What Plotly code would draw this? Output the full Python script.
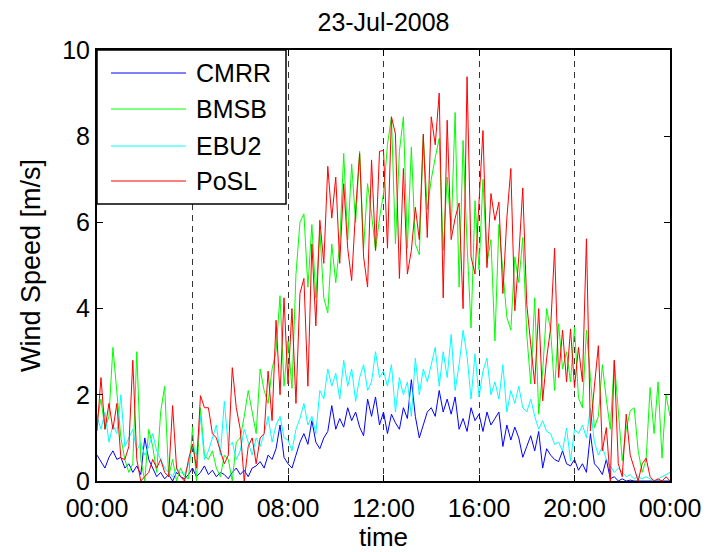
import pandas as pd
import plotly.graph_objects as go

# ---- data (10-minute samples, m/s) ----
start_time = "2008-07-23 00:00"
sample_freq = "10min"

cmrr = [0.6, 0.45, 0.3, 0.55, 0.7, 0.5,
        0.55, 0.3, 0.4, 0.2, 0.35, 0.15,
        1.0, 0.5, 0.3, 0.1, 0.2, 0.05,
        0.15, 0.0, 0.2, 0.1, 0.05, 0.15,
        0.3, 0.1, 0.2, 0.35, 0.15, 0.25,
        0.1, 0.2, 0.15, 0.05, 0.2, 0.3,
        0.15, 0.25, 0.1, 0.3, 0.35, 0.45,
        0.3, 0.6, 0.5, 0.75, 1.3, 0.55,
        0.4, 0.3, 0.6, 0.9, 1.1, 0.85,
        1.4, 0.9, 0.75, 1.0, 1.15, 1.75,
        1.2, 1.45, 1.25, 1.7, 1.4, 1.6,
        1.25, 1.05, 1.9, 1.5, 1.95, 1.3,
        1.6, 1.1, 1.55, 1.35, 1.2, 1.7,
        1.45, 2.35, 1.5, 1.0, 1.3, 1.6,
        1.7, 1.5, 2.1, 1.6, 1.9, 1.55,
        1.95, 1.2, 1.45, 1.15, 1.7, 1.4,
        1.55, 1.15, 1.6, 1.3, 1.45, 1.6,
        0.8, 1.3, 0.95, 1.25, 1.0, 0.55,
        0.8, 1.05, 0.7, 1.15, 0.3, 0.75,
        0.6, 0.5, 0.45, 0.7, 0.4, 0.35,
        0.5, 0.25, 0.4, 0.2, 1.1, 0.4,
        0.3, 0.15, 0.5, 0.05, 0.1, 0.0,
        0.05, 0.0, 0.02, 0.0, 0.0, 0.0,
        0.0, 0.0, 0.0, 0.0, 0.0, 0.0,
        0.0]

bmsb = [1.4, 1.9, 1.2, 1.5, 3.1, 2.0,
        1.0, 0.5, 0.2, 0.4, 3.0, 0.5,
        0.0, 1.2, 0.8, 0.2, 1.6, 2.2,
        0.1, 0.5, 0.0, 0.3, 0.1, 0.05,
        1.25, 0.0, 1.7, 0.6, 0.5, 0.7,
        0.3, 0.1, 0.6, 0.5, 0.0, 0.9,
        1.0, 1.5, 2.1, 1.6, 1.1, 2.6,
        2.1, 1.8, 2.6, 3.0, 4.3, 2.2,
        3.25, 2.15, 4.8, 6.0, 6.2, 4.5,
        5.95, 4.25, 5.8, 4.25, 3.9, 5.5,
        4.6, 5.5, 7.6, 5.6, 7.35, 6.0,
        7.65, 5.4, 6.9, 6.2, 5.35, 6.1,
        6.67, 7.8, 8.45, 5.5, 7.65, 8.45,
        5.4, 7.75, 5.5, 5.25, 8.0, 6.3,
        7.0, 7.5, 7.95, 5.35, 7.05, 5.8,
        8.55, 4.5, 7.9, 5.5, 3.55, 6.5,
        4.9, 7.0, 5.05, 5.6, 3.25, 5.95,
        4.9, 3.8, 3.5, 5.2, 4.6, 5.65,
        3.4, 2.25, 4.25, 1.55, 2.55, 4.0,
        3.5, 2.1, 3.65, 2.6, 3.0, 2.3,
        3.57, 1.93, 1.7, 3.5, 2.4, 1.24,
        1.5, 2.7, 1.9, 1.2, 2.8, 1.6,
        0.47, 1.2, 1.63, 1.7, 0.7, 0.2,
        0.5, 2.17, 1.1, 2.3, 0.53, 2.0,
        1.5]

ebu2 = [1.5, 1.2, 1.6, 0.9, 1.3, 1.1,
        2.0, 0.8, 1.0, 1.2, 0.7, 0.9,
        0.6, 0.8, 1.1, 0.7, 0.5, 0.3,
        0.2, 0.1, 0.3, 0.2, 0.15, 0.4,
        0.8, 0.6, 1.5, 0.5, 0.7, 1.0,
        1.3, 0.6, 1.85, 0.8, 0.9, 0.5,
        0.7, 1.2, 0.9, 0.6, 1.0, 0.8,
        1.1, 1.5, 0.9, 1.3, 1.5, 1.0,
        0.95, 0.7, 1.2, 1.45, 1.8, 1.3,
        1.5, 1.1, 2.1, 1.9, 2.6, 2.2,
        2.5, 1.9, 2.8, 2.2, 2.6, 1.85,
        2.4, 2.7, 2.1, 2.3, 3.0, 2.4,
        2.55, 2.2, 2.7, 1.6, 2.4, 2.0,
        2.3, 1.5, 2.85, 2.0, 2.6, 2.3,
        2.7, 3.1, 2.2, 3.0, 2.4, 3.4,
        2.1, 2.7, 3.5, 2.9, 1.9, 2.95,
        1.95, 2.55, 2.85, 2.0, 2.3, 1.9,
        2.7, 1.6, 2.1, 1.8, 2.2, 1.7,
        1.6, 1.9, 1.5, 1.2, 1.4, 1.15,
        1.1, 0.85, 0.9, 0.7, 1.23, 0.47,
        1.2, 1.1, 1.3, 1.0, 1.7, 0.9,
        0.6, 0.8, 0.5, 0.35, 0.2, 0.3,
        0.2, 0.1, 0.15, 0.05, 0.1, 0.05,
        0.1, 0.05, 0.0, 0.05, 0.1, 0.15,
        0.2]

posl = [1.16, 2.4, 1.2, 1.8, 1.2, 1.8,
        0.53, 0.5, 0.8, 2.8, 0.5, 0.0,
        0.1, 0.2, 0.5, 0.3, 0.5, 0.2,
        0.1, 1.75, 0.3, 0.1, 0.0, 0.5,
        0.86, 0.3, 1.98, 1.7, 1.7, 1.1,
        1.0, 0.7, 0.4, 0.6, 2.63, 1.7,
        1.2, 0.0, 0.8, 1.0, 0.4, 1.0,
        1.1, 2.55, 1.4, 3.73, 2.0, 4.25,
        2.25, 4.0, 1.8, 4.35, 4.7, 2.2,
        5.5, 3.6, 6.05, 5.05, 7.3, 6.1,
        7.05, 5.05, 6.9, 5.4, 4.65, 6.3,
        7.6, 5.2, 4.5, 7.45, 5.35, 7.65,
        7.67, 5.4, 8.45, 8.05, 4.7, 7.25,
        4.8, 5.35, 6.35, 5.6, 8.05, 5.65,
        8.45, 7.8, 9.0, 4.25, 8.37, 5.6,
        6.1, 6.45, 4.0, 9.38, 5.2, 4.8,
        6.5, 8.13, 4.95, 6.67, 6.05, 6.47,
        4.35, 6.1, 7.25, 3.95, 5.2, 6.8,
        4.1, 3.2, 2.25, 4.0, 1.86, 2.85,
        3.55, 5.4, 2.4, 3.5, 2.3, 3.53,
        2.17, 3.1, 2.3, 5.62, 1.16, 2.2,
        3.14, 0.7, 1.24, 0.0, 2.8, 0.4,
        0.1, 1.55, 0.6, 0.3, 0.0, 0.4,
        0.53, 0.1, 0.0, 0.05, 0.0, 0.1,
        0.0]

series_names = ["CMRR", "BMSB", "EBU2", "PoSL"]
series_values = [cmrr, bmsb, ebu2, posl]
series_colors = ["#0000FF", "#00FF00", "#00FFFF", "#FF0000"]

x_tick_labels = ["00:00", "04:00", "08:00", "12:00", "16:00", "20:00", "00:00"]
y_ticks = [0, 2, 4, 6, 8, 10]

times = pd.date_range(start_time, periods=len(cmrr), freq=sample_freq)
x_tick_vals = pd.date_range("2008-07-23 00:00", "2008-07-24 00:00", freq="4h")

FONT = "Liberation Sans, Arial, Helvetica, sans-serif"

fig = go.Figure()
for name, vals, col in zip(series_names, series_values, series_colors):
    fig.add_trace(go.Scatter(x=times, y=vals, mode="lines", name=name,
                             line=dict(color=col, width=1), showlegend=False))

# MATLAB-style legend box drawn in the upper-left corner
L, R, T, B = 97, 670, 50, 481
def px(xp):
    return (xp - L) / (R - L)
def py(yp):
    return (B - yp) / (B - T)

shapes = [dict(type="rect", xref="paper", yref="paper",
               x0=px(97), x1=px(286), y0=py(204), y1=py(50),
               line=dict(color="black", width=1.5), fillcolor="white", layer="above")]
annotations = []
rows = [73, 109, 146, 181]
for name, col, ry in zip(series_names, series_colors, rows):
    shapes.append(dict(type="line", xref="paper", yref="paper",
                       x0=px(111), x1=px(186), y0=py(ry), y1=py(ry),
                       line=dict(color=col, width=1.2), layer="above"))
    annotations.append(dict(xref="paper", yref="paper", x=px(194), y=py(ry),
                            text=name, showarrow=False, xanchor="left", yanchor="middle",
                            font=dict(family=FONT, size=25, color="black")))

fig.update_layout(
    width=708, height=552,
    margin=dict(l=L, r=708 - R, t=T, b=552 - B, autoexpand=False),
    paper_bgcolor="white", plot_bgcolor="white",
    font=dict(family=FONT, size=25, color="black"),
    title=dict(text="23-Jul-2008", x=0.5 * (L + R) / 708, xanchor="center",
               y=1 - 22 / 552, yanchor="middle", font=dict(size=25)),
    shapes=shapes, annotations=annotations,
    xaxis=dict(type="date", range=[x_tick_vals[0], x_tick_vals[-1]],
               tickvals=list(x_tick_vals), ticktext=x_tick_labels,
               ticks="inside", ticklen=6, tickcolor="black", tickwidth=1,
               ticklabelstandoff=4, automargin=False,
               showline=True, linecolor="black", linewidth=2, mirror="ticks",
               showgrid=True, gridcolor="#333333", gridwidth=1, griddash="6px,5px",
               zeroline=False,
               title=dict(text="time", standoff=10, font=dict(size=26))),
    yaxis=dict(range=[0, 10], tickvals=y_ticks, automargin=False,
               ticks="inside", ticklen=6, tickcolor="black", tickwidth=1,
               showline=True, linecolor="black", linewidth=2, mirror="ticks",
               showgrid=False, zeroline=False,
               title=dict(text="Wind Speed [m/s]", standoff=14, font=dict(size=27))),
)

fig.write_html("out.html")
